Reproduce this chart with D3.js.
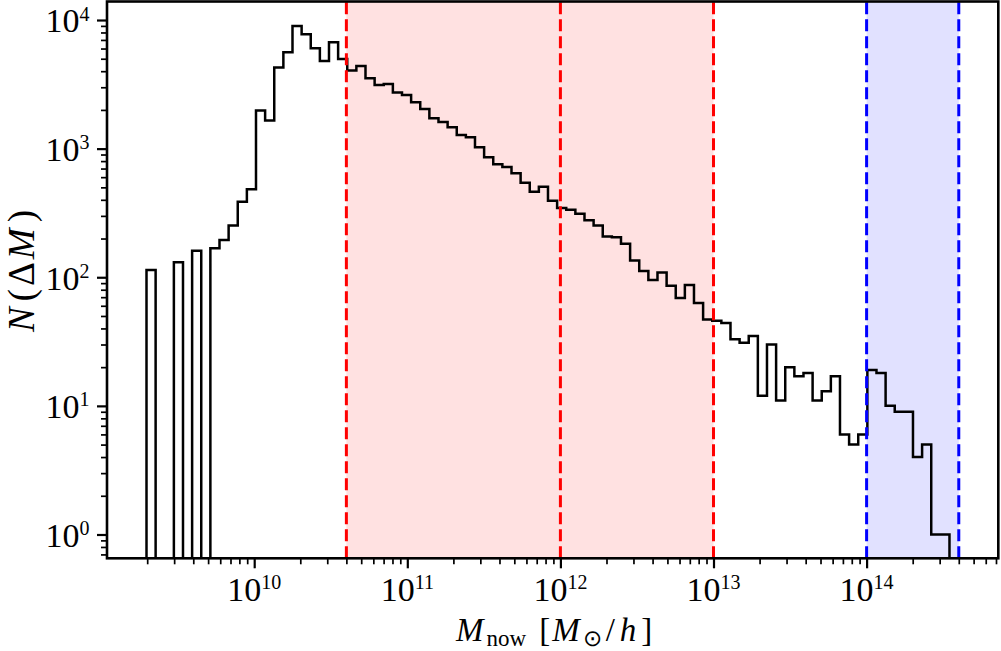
<!DOCTYPE html>
<html><head><meta charset="utf-8">
<script src="https://cdn.jsdelivr.net/npm/d3@7"></script>
<style>body{margin:0;background:#fff}svg{display:block}</style>
</head><body><svg id="c" width="1001" height="651"></svg>
<script>
// ---------------- data ----------------
const binLogStart = 9.2965;   // log10 of first bin edge
const binLogWidth = 0.0596;   // bin width (dex)
const counts = [114,0,0,131,0,161,0,168,195,252,387,483,1975,1651,4265,5620,9000,7760,6035,4808,
  6719,4986,4044,4396,3526,3128,3186,2726,2616,2296,2036,1722,1614,1467,1278,1227,1025,857,756,721,
  644,544,463,506,394,346,335,312,277,252,207,205,182,135,112,95,109,86,69,87,
  63,47,46,44,33,31,35,12,30,11,20,17,18,11,13,17,6,5,6,19,18,10,9,9,4,5,1,1];
const spanFrom = [4e10, 1e14];
const spanTo   = [1e13, 4e14];
const spanColors = ["#ffe1e1", "#e1e1ff"];
const redLines = [4e10, 1e12, 1e13];
const blueLines = [1e14, 4e14];
const xMajor = [10, 11, 12, 13, 14];      // exponents
const yMajor = [0, 1, 2, 3, 4];

// ---------------- layout ----------------
const L = 107, R = 998.3, T = 1.5, B = 558.3;
const svg = d3.select("#c");
const x = d3.scaleLog().domain([Math.pow(10, 9.0385), Math.pow(10, 14.8602)]).range([L, R]);
const y = d3.scaleLog().domain([Math.pow(10, -0.1851), Math.pow(10, 4.1439)]).range([B, T]);
const FONT = "'Liberation Serif', 'Times New Roman', serif";

svg.append("defs").append("clipPath").attr("id", "plotclip")
  .append("rect").attr("x", L).attr("y", T).attr("width", R - L).attr("height", B - T);

// spans
spanFrom.forEach((f, i) => {
  svg.append("rect").attr("x", x(f)).attr("width", x(spanTo[i]) - x(f))
    .attr("y", T).attr("height", B - T).attr("fill", spanColors[i]);
});

// histogram step outline
const edges = d3.range(counts.length + 1).map(i => Math.pow(10, binLogStart + i * binLogWidth));
const yv = c => c > 0 ? y(c) : B + 20;
const pts = [[x(edges[0]), B + 20]];
counts.forEach((c, i) => { pts.push([x(edges[i]), yv(c)]); pts.push([x(edges[i + 1]), yv(c)]); });
pts.push([x(edges[counts.length]), B + 20]);
svg.append("path").attr("d", d3.line()(pts)).attr("fill", "none")
  .attr("stroke", "#000").attr("stroke-width", 2.5).attr("stroke-linejoin", "miter")
  .attr("clip-path", "url(#plotclip)");

// vertical dashed lines
function vlines(vals, col) {
  vals.forEach(v => {
    svg.append("line").attr("x1", x(v)).attr("x2", x(v)).attr("y1", B).attr("y2", T)
      .attr("stroke", col).attr("stroke-width", 3).attr("stroke-dasharray", "12,5");
  });
}
vlines(redLines, "#ff0000");
vlines(blueLines, "#0000ff");

// ticks
const xMinor = [], yMinor = [];
for (let e = 9; e <= 14; e++) for (let m = 2; m <= 9; m++) {
  const v = m * Math.pow(10, e);
  if (v > x.domain()[0] && v < x.domain()[1]) xMinor.push(v);
}
for (let e = -1; e <= 4; e++) for (let m = 2; m <= 9; m++) {
  const v = m * Math.pow(10, e);
  if (v > y.domain()[0] && v < y.domain()[1]) yMinor.push(v);
}
const gx = svg.append("g").attr("transform", `translate(0,${B})`);
gx.call(d3.axisBottom(x).tickValues(xMajor.map(e => Math.pow(10, e))).tickSize(10).tickFormat(""));
gx.selectAll(".tick line").attr("stroke-width", 2.2);
const gx2 = svg.append("g").attr("transform", `translate(0,${B})`);
gx2.call(d3.axisBottom(x).tickValues(xMinor).tickSize(6).tickFormat(""));
gx2.selectAll(".tick line").attr("stroke-width", 1.7);
const gy = svg.append("g").attr("transform", `translate(${L},0)`);
gy.call(d3.axisLeft(y).tickValues(yMajor.map(e => Math.pow(10, e))).tickSize(10).tickFormat(""));
gy.selectAll(".tick line").attr("stroke-width", 2.2);
const gy2 = svg.append("g").attr("transform", `translate(${L},0)`);
gy2.call(d3.axisLeft(y).tickValues(yMinor).tickSize(6).tickFormat(""));
gy2.selectAll(".tick line").attr("stroke-width", 1.7);
svg.selectAll(".domain").remove();

// tick labels
xMajor.forEach(e => {
  const t = svg.append("text").attr("x", x(Math.pow(10, e))).attr("y", 601)
    .attr("text-anchor", "middle").attr("font-family", FONT).attr("fill", "#000");
  t.append("tspan").attr("font-size", 34).text("10");
  t.append("tspan").attr("font-size", 20).attr("dy", -11.7).text(e);
});
yMajor.forEach(e => {
  const t = svg.append("text").attr("x", 89.5).attr("y", y(Math.pow(10, e)) + 12.3)
    .attr("text-anchor", "end").attr("font-family", FONT).attr("fill", "#000");
  t.append("tspan").attr("font-size", 34).text("10");
  t.append("tspan").attr("font-size", 20).attr("dy", -11.7).text(e);
});

// frame
svg.append("rect").attr("x", L).attr("y", T).attr("width", R - L).attr("height", B - T)
  .attr("fill", "none").attr("stroke", "#000").attr("stroke-width", 2.6);

// axis labels
const xl = svg.append("text").attr("x", 456).attr("y", 641).attr("text-anchor", "start")
  .attr("font-family", FONT).attr("font-size", 33).attr("fill", "#000");
xl.append("tspan").attr("font-style", "italic").text("M");
xl.append("tspan").attr("font-size", 23).attr("dx", 3).attr("dy", 5).text("now");
xl.append("tspan").attr("dx", 13).attr("dy", -5).text("[");
xl.append("tspan").attr("font-style", "italic").attr("dx", 2).text("M");
xl.append("tspan").attr("font-size", 23).attr("dx", 3).attr("dy", 5).text("\u2299");
xl.append("tspan").attr("dx", 4).attr("dy", -5).text("/");
xl.append("tspan").attr("font-style", "italic").attr("dx", 5).text("h");
xl.append("tspan").attr("dx", 5).text("]");

const yl = svg.append("text").attr("transform", `translate(34,271) rotate(-90)`)
  .attr("text-anchor", "middle").attr("font-family", FONT).attr("font-size", 37).attr("fill", "#000");
yl.append("tspan").attr("font-style", "italic").text("N");
yl.append("tspan").attr("dx", 6).text("(");
yl.append("tspan").attr("dx", 3).text("\u0394");
yl.append("tspan").attr("font-style", "italic").attr("dx", 3).text("M");
yl.append("tspan").attr("dx", 6).text(")");
</script>
</body></html>
